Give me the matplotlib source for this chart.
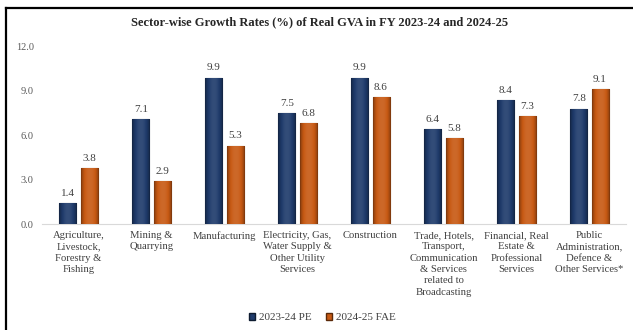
import matplotlib
matplotlib.use("Agg")
import matplotlib.pyplot as plt
import numpy as np
from matplotlib.lines import Line2D
from matplotlib.patches import Patch

categories = [
    "Agriculture,\nLivestock,\nForestry &\nFishing",
    "Mining &\nQuarrying",
    "Manufacturing",
    "Electricity, Gas,\nWater Supply &\nOther Utility\nServices",
    "Construction",
    "Trade, Hotels,\nTransport,\nCommunication\n& Services\nrelated to\nBroadcasting",
    "Financial, Real\nEstate &\nProfessional\nServices",
    "Public\nAdministration,\nDefence &\nOther Services*",
]
pe_2023_24 = [1.4, 7.1, 9.9, 7.5, 9.9, 6.4, 8.4, 7.8]
fae_2024_25 = [3.8, 2.9, 5.3, 6.8, 8.6, 5.8, 7.3, 9.1]
series_names = ["2023-24 PE", "2024-25 FAE"]
yticks = [0.0, 3.0, 6.0, 9.0, 12.0]

blue = "#1F3B6B"
orange = "#C85A14"
serif = ["Liberation Serif", "DejaVu Serif"]

fig = plt.figure(figsize=(6.33, 3.30), dpi=100)
ax = fig.add_axes([42 / 633, 1 - 224 / 330, (626 - 42) / 633, (224 - 46.5) / 330])

x = np.arange(len(categories))
w = 0.233
off = 0.144


def shade(c, f):
    c = np.array(matplotlib.colors.to_rgb(c))
    if f < 1:
        return c * f
    return c + (1 - c) * (f - 1)


for vals, col, sgn in [(pe_2023_24, blue, -1), (fae_2024_25, orange, 1)]:
    bars = ax.bar(x + sgn * off, vals, width=w, color=col,
                  edgecolor=shade(col, 0.45), linewidth=0.8, zorder=3)
    for b, v in zip(bars, vals):
        n = 64
        t = np.linspace(0, 1, n)
        prof = 0.55 + 0.6 * np.sin(np.pi * t) ** 0.6
        img = np.array([shade(col, p) if p < 1 else shade(col, 1 + (p - 1) * 0.6) for p in prof])
        img = img[np.newaxis, :, :]
        x0 = b.get_x()
        im = ax.imshow(img, extent=[x0, x0 + b.get_width(), 0, v], aspect="auto",
                       zorder=3.5, interpolation="bilinear")
        im.set_clip_path(b)
        ax.text(b.get_x() + b.get_width() / 2, v + 0.35, f"{v:.1f}",
                ha="center", va="bottom", fontsize=8, color="#404040",
                family=serif, zorder=5)

ax.set_xlim(-0.5, len(categories) - 0.5)
ax.set_ylim(0, 12.0)
ax.set_yticks(yticks)
ax.set_yticklabels([f"{t:.1f}" for t in yticks], family=serif, fontsize=7.5, color="#595959")
ax.set_xticks(x)
ax.set_xticklabels(categories, family=serif, fontsize=7.7, color="#404040", linespacing=1.34)
ax.tick_params(axis="both", length=0)
ax.tick_params(axis="y", pad=6)
ax.tick_params(axis="x", pad=5)
for s in ["top", "right", "left"]:
    ax.spines[s].set_visible(False)
ax.spines["bottom"].set_color("#D9D9D9")
ax.spines["bottom"].set_linewidth(0.8)

fig.text(320 / 633, 1 - 22 / 330,
         "Sector-wise Growth Rates (%) of Real GVA in FY 2023-24 and 2024-25",
         ha="center", va="center", fontsize=9, fontweight="bold", family=serif, color="#262626")

handles = [Patch(facecolor=blue, edgecolor=shade(blue, 0.45)),
           Patch(facecolor=orange, edgecolor=shade(orange, 0.45))]
fig.legend(handles, series_names, loc="center", bbox_to_anchor=(322 / 633, 1 - 317.5 / 330),
           ncol=2, frameon=False, prop={"family": serif, "size": 8},
           handlelength=0.6, handleheight=0.6, handletextpad=0.3, columnspacing=1.3,
           labelcolor="#404040")

fig.add_artist(Line2D([6 / 633, 6 / 633], [0, 1 - 8 / 330], transform=fig.transFigure,
                      color="black", linewidth=1.6))
fig.add_artist(Line2D([6 / 633, 1], [1 - 8 / 330, 1 - 8 / 330], transform=fig.transFigure,
                      color="black", linewidth=1.6))

fig.savefig("out.png", dpi=100)
